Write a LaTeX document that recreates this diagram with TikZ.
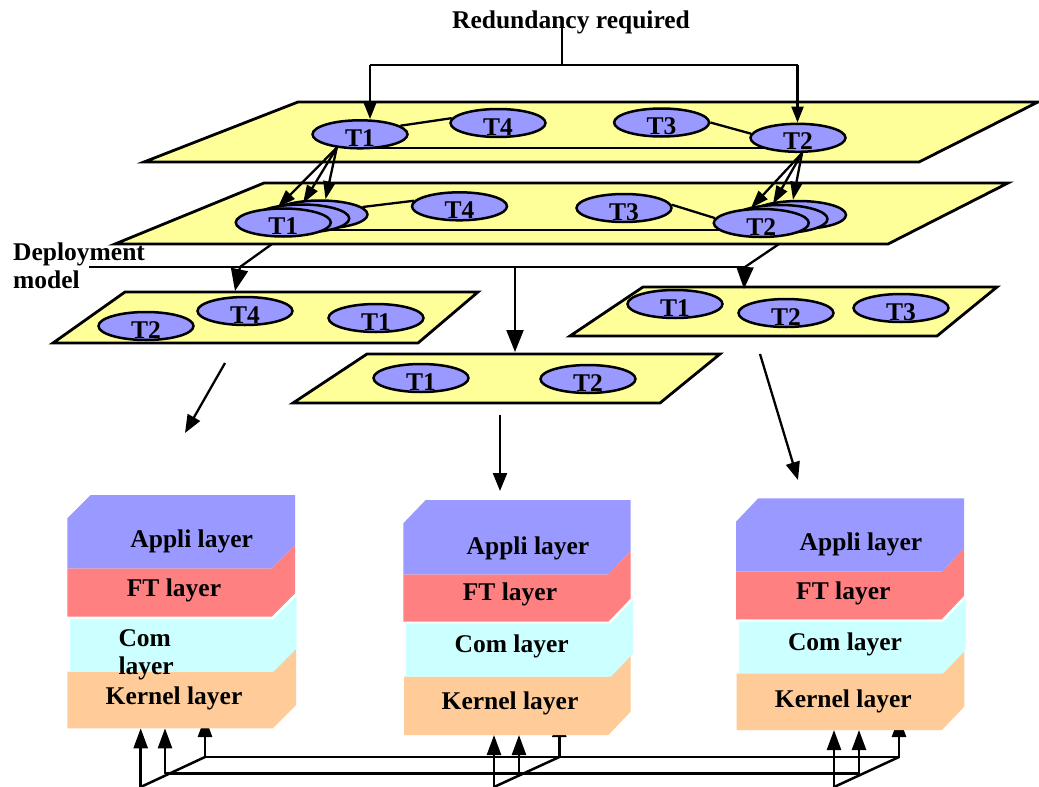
\documentclass[tikz,border=0pt]{standalone}
\usepackage{fontspec}
\setmainfont{Liberation Serif}
\usetikzlibrary{arrows.meta,shapes.geometric}
\definecolor{planeyellow}{HTML}{FFFF99}
\definecolor{taskblue}{HTML}{9999FF}
\definecolor{ftred}{HTML}{FF8080}
\definecolor{comcyan}{HTML}{CCFFFF}
\definecolor{kernelpeach}{HTML}{FFCC99}
\pgfdeclarelayer{planes}
\pgfdeclarelayer{links}
\pgfsetlayers{planes,links,main}
\newcommand\lblfont{\bfseries\fontsize{25.5}{28}\selectfont}
% task labels sit a little below the centre of their ellipse
\newcommand\lowtext[1]{\raisebox{-12pt}[0pt][0pt]{#1}}
% one slab of a software stack: colour, left x, front right x, top y, bottom y, depth dx, depth dy
\newcommand\slab[7]{\fill[#1] (#2,#4) -- (#3,#4) -- ++(#6,-#7) -- ++(0,#5-#4) -- (#3,#5) -- (#2,#5) -- cycle;}
% the top slab also shows its upper face
\newcommand\topslab[7]{\fill[#1] (#2,#4) -- ++(#6,-#7) -- ++(#3-#2,0) -- ++(0,#5-#4) -- (#3,#5) -- (#2,#5) -- cycle;}
\begin{document}
\begin{tikzpicture}[x=1pt,y=-1pt,
  plane/.style={draw, line width=2.8pt, fill=planeyellow},
  task/.style={ellipse, draw, line width=2.5pt, fill=taskblue, minimum width=95pt,
    minimum height=28pt, inner sep=0pt, font=\lblfont},
  lbl/.style={font=\lblfont, inner sep=0pt},
  link/.style={line width=2.3pt},
  redarr/.style={line width=2.3pt, -{Triangle[length=16pt,width=12pt]}},
  reparr/.style={line width=2.3pt, -{Triangle[length=18pt,width=12pt]}},
  deparr/.style={line width=2.3pt, -{Triangle[length=22pt,width=17pt]}},
  maparr/.style={line width=2.3pt, -{Triangle[length=18pt,width=14pt]}},
  net/.style={line width=2.5pt},
  netarr/.style={line width=2.5pt, -{Triangle[length=20pt,width=14pt]}}]
\useasboundingbox (0,0) rectangle (1039,787);

% ---------- planes ----------
\begin{pgfonlayer}{planes}
  \fill[white] (0,0) rectangle (1039,787);
  \draw[plane] (144,162) -- (919,162) -- (1038,102) -- (298,102) -- cycle;
  \draw[plane] (115,244) -- (888,244) -- (1008,183) -- (264,183) -- cycle;
  \draw[plane] (53,343) -- (418,343) -- (478,292) -- (125,292) -- cycle;
  \draw[plane] (293,403) -- (660,403) -- (720,354) -- (367,354) -- cycle;
  \draw[plane] (570,336) -- (937,336) -- (997,287) -- (643,287) -- cycle;
\end{pgfonlayer}

% ---------- functional model ----------
\node[task] (p1t1) at (360,134.3) {\lowtext{T1}};
\node[task] (p1t4) at (498,123) {\lowtext{T4}};
\node[task] (p1t3) at (661.6,122.5) {\lowtext{T3}};
\node[task] (p1t2) at (798,137.8) {\lowtext{T2}};

% ---------- replicated model ----------
\node[task] (p2t1c) at (320,214.5) {};
\node[task] (p2t1b) at (301.7,218.5) {};
\node[task] (p2t1a) at (283.3,222.5) {\lowtext{T1}};
\node[task] (p2t4) at (459.5,206.3) {\lowtext{T4}};
\node[task] (p2t3) at (624,208) {\lowtext{T3}};
\node[task] (p2t2c) at (798.5,215) {};
\node[task] (p2t2b) at (780,219) {};
\node[task] (p2t2a) at (761.3,223) {\lowtext{T2}};

% ---------- deployment on the three nodes ----------
\node[task] (pAt2) at (146,326) {\lowtext{T2}};
\node[task] (pAt4) at (245,311) {\lowtext{T4}};
\node[task] (pAt1) at (376,318) {\lowtext{T1}};
\node[task] (pBt1) at (421,378) {\lowtext{T1}};
\node[task] (pBt2) at (588,379) {\lowtext{T2}};
\node[task] (pCt1) at (675,304) {\lowtext{T1}};
\node[task] (pCt2) at (786,313) {\lowtext{T2}};
\node[task] (pCt3) at (901,308) {\lowtext{T3}};

% communication links between tasks
\begin{pgfonlayer}{links}
  \draw[link] (p1t1.12) -- (p1t4.174);
  \draw[link] (p1t3.0) -- (p1t2.175);
  \draw[link] (p1t1.center |- 0,148.3) -- (p1t2.center |- 0,148.3);
  \draw[link] (p2t1c.10) -- (p2t4.173);
  \draw[link] (p2t3.4) -- (p2t2a.174);
  \draw[link] (p2t1c.center |- 0,230) -- (p2t2b.center |- 0,230);
\end{pgfonlayer}

% ---------- redundancy request ----------
\node[lbl, anchor=base] (req) at (571,28.5) {Redundancy required};
\coordinate (rq) at (562,24);
\coordinate (rqj) at (562,65);
\coordinate (rl) at (370,65);
\coordinate (rr) at (797.5,65);
\draw[link] (rq) -- (rqj);
\draw[link] (rl) -- (rr);
\draw[redarr] (rl) -- (rl |- p1t1.north);
\draw[redarr] (rr) -- (rr |- p1t2.north);

% replication arrows
\draw[reparr] (p1t1.210) -- (p2t1a.110);
\draw[reparr] (p1t1.210) -- (p2t1b.85);
\draw[reparr] (p1t1.210) -- (p2t1c.70);
\draw[reparr] (p1t2.-75) -- (p2t2a.125);
\draw[reparr] (p1t2.-75) -- (p2t2b.115);
\draw[reparr] (p1t2.-75) -- (p2t2c.110);

% ---------- deployment model ----------
\node[lbl, anchor=base west] (dep1) at (13,260.7) {Deployment};
\node[lbl, anchor=base west] (dep2) at (13,288.3) {model};
\coordinate (p2bl) at (272,244);
\coordinate (p2br) at (779,244);
\coordinate (busL) at (89,267);
\coordinate (dl) at (240,267);
\coordinate (dm) at (515,267);
\coordinate (dr) at (745,267);
\coordinate (pAin) at (235,291);
\coordinate (pBin) at (515,352);
\coordinate (pCin) at (744,289);
\draw[link] (busL) -- (dr);
\draw[link] (p2bl) -- (dl);
\draw[link] (p2br) -- (dr);
\draw[deparr] (dl) -- (pAin);
\draw[deparr] (dm) -- (pBin);
\draw[deparr] (dr) -- (pCin);

% mapping onto the execution stacks
\coordinate (mAs) at (225,363);
\coordinate (mAe) at (185,433);
\coordinate (mBs) at (500,415);
\coordinate (mBe) at (500,491);
\coordinate (mCs) at (760,354);
\coordinate (mCe) at (798,480);
\draw[maparr] (mAs) -- (mAe);
\draw[maparr] (mBs) -- (mBe);
\draw[maparr] (mCs) -- (mCe);

% ---------- network below the stacks ----------
\coordinate (nbL) at (205,757);
\coordinate (nbR) at (900,757);
\coordinate (nmL) at (165,773.5);
\coordinate (nmR) at (859,773.5);
\draw[net] (nbL) -- (nbR);
\draw[net] (nmL) -- (nmR);
\foreach \n/\a/\b/\c/\k in {L/140.7/165/205/728.3, M/494/519/559.3/735, R/834/859/899/730} {
  \coordinate (f\n) at (\a,787);
  \coordinate (m\n) at (\b,773.5);
  \coordinate (b\n) at (\c,757);
  \coordinate (k1\n) at (\a,\k);
  \coordinate (k2\n) at (\b,\k);
  \coordinate (k3\n) at (\c,717);
  \draw[net] (f\n) -- (b\n);
  \draw[netarr] (f\n) -- (k1\n);
  \draw[netarr] (m\n) -- (k2\n);
  \draw[netarr] (b\n) -- (k3\n);
}

% ---------- execution stacks ----------
\slab{kernelpeach}{67.3}{272.7}{671.7}{728.3}{23.3}{23.3}
\slab{comcyan}{70}{273.3}{619.3}{671.7}{23.3}{23.3}
\slab{ftred}{67.3}{271.7}{568.3}{616.7}{23.3}{23.3}
\topslab{taskblue}{67.3}{271.7}{518.3}{568.3}{23.3}{23.3}
\node[lbl, anchor=base] (lapp) at (191.7,547.7) {Appli layer};
\node[lbl, anchor=base] (lft) at (174,596) {FT layer};
\node[lbl, anchor=base west] (lcom1) at (118.3,646.7) {Com};
\node[lbl, anchor=base west] (lcom2) at (118.3,674.3) {layer};
\node[lbl, anchor=base] (lker) at (174,704) {Kernel layer};

\slab{kernelpeach}{404}{608.3}{676.7}{735}{22.4}{23.3}
\slab{comcyan}{405.7}{610.7}{623.3}{676.7}{22.4}{23.3}
\slab{ftred}{403.3}{608.3}{574.3}{621.7}{22.4}{23.3}
\topslab{taskblue}{403.3}{608.3}{523.3}{574.3}{22.4}{23.3}
\node[lbl, anchor=base] (mapp) at (528,554) {Appli layer};
\node[lbl, anchor=base] (mft) at (510,600.7) {FT layer};
\node[lbl, anchor=base] (mcom) at (511.7,652.3) {Com layer};
\node[lbl, anchor=base] (mker) at (510,709.3) {Kernel layer};

\slab{kernelpeach}{736.7}{942}{673.3}{730}{22.3}{23.4}
\slab{comcyan}{739}{943.3}{621.7}{673.3}{22.3}{23.4}
\slab{ftred}{736}{941.7}{571.7}{619.3}{22.3}{23.4}
\topslab{taskblue}{736}{941.7}{521.7}{571.7}{22.3}{23.4}
\node[lbl, anchor=base] (rapp) at (861,550.7) {Appli layer};
\node[lbl, anchor=base] (rft) at (843.3,599) {FT layer};
\node[lbl, anchor=base] (rcom) at (845,650.7) {Com layer};
\node[lbl, anchor=base] (rker) at (843.3,707.3) {Kernel layer};
\end{tikzpicture}
\end{document}
